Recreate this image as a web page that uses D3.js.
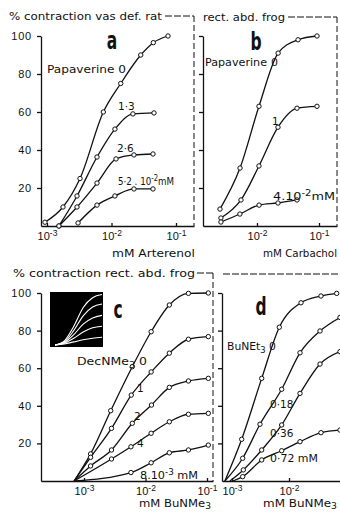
<!DOCTYPE html>
<html><head><meta charset="utf-8">
<script src="https://cdn.jsdelivr.net/npm/d3@7"></script>
<style>
html,body{margin:0;padding:0;background:#fff;}
svg{display:block;font-family:"DejaVu Sans",sans-serif;}
</style></head><body>
<svg id="fig" width="340" height="513"></svg>
<script>
// ---------------- data (concentration in mM, % contraction) ----------------
const yTicks = [20, 40, 60, 80, 100];
const ticksA = [1e-3, 1e-2, 1e-1];
const ticksB = [1e-2, 1e-1];
const ticksC = [1e-3, 1e-2, 1e-1];
const ticksD = [1e-3, 1e-2];

// panel a: Arterenol on rat vas deferens, papaverine 0 / 1.3 / 2.6 / 5.2 .10^-2 mM
const aPap0  = [[0.00093,2],[0.00177,10],[0.00325,25],[0.00747,60],[0.0139,75],[0.0284,90],[0.0445,96.5],[0.0752,100]];
const aPap13 = [[0.00153,0],[0.00292,15.8],[0.00596,36.3],[0.0113,51],[0.0215,59],[0.0456,59.5]];
const aPap26 = [[0.00153,0],[0.00292,10],[0.00596,22.6],[0.01175,35.3],[0.0223,37.4],[0.044,37.9]];
const aPap52 = [[0.00303,1.6],[0.00596,11],[0.0113,15.8],[0.0223,19.5],[0.044,19.5]];

// panel b: Carbachol on frog rectus abdominis, papaverine 0 / 1 / 4 .10^-2 mM
const bPap0 = [[0.00253,8.9],[0.00532,30.5],[0.01076,63],[0.0219,91],[0.0459,98],[0.0929,100]];
const bPap1 = [[0.00262,4.2],[0.00552,13.7],[0.01076,31.6],[0.0218,52],[0.0442,62],[0.0929,63]];
const bPap4 = [[0.00262,2.1],[0.0053,6.3],[0.0108,11],[0.0218,12.1],[0.0442,13.7]];

// panel c: BuNMe3 with DecNMe3 0 / 1 / 2 / 4 / 8 .10^-3 mM
const cStart = 0.00069;
const cDec0 = [[0.00128,14.4],[0.00272,37.4],[0.0061,60.8],[0.01235,79.4],[0.0244,93.6],[0.0499,99.8],[0.105,100]];
const cDec1 = [[0.00128,12.6],[0.0028,28],[0.00587,45.7],[0.01235,58],[0.0244,68],[0.0499,75.4],[0.105,76.8]];
const cDec2 = [[0.00128,8],[0.0028,16.5],[0.0061,30.7],[0.0125,40.4],[0.0244,49.8],[0.0499,53.2],[0.105,54.6]];
const cDec4 = [[0.0028,11.7],[0.0058,18.2],[0.01235,25.4],[0.0244,31.5],[0.0499,35.5],[0.105,36]];
const cDec8 = [[0.0058,4.5],[0.01235,9.7],[0.0244,15],[0.0499,16.5],[0.105,19.1]];

// panel d: BuNMe3 with BuNEt3 0 / 0.18 / 0.36 / 0.72 mM
const dStarts = [0.00075, 0.00075, 0.00092, 0.00104];
const dBu0   = [[0.00148,22.2],[0.00332,54.6],[0.00676,81.8],[0.01625,94.8],[0.0364,98.4],[0.0687,99.8]];
const dBu018 = [[0.00154,12.1],[0.0031,30.2],[0.00744,48.8],[0.0156,68.2],[0.035,79.8],[0.0785,87]];
const dBu036 = [[0.00158,5.9],[0.00332,16.5],[0.00744,29.8],[0.0156,46.6],[0.035,62.2],[0.0785,68.8]];
const dBu072 = [[0.00154,2.3],[0.00332,11.2],[0.00744,16.1],[0.0156,20.9],[0.0364,25.7],[0.0785,27.1]];

// inset (schematic family of curves, unit coordinates)
const inset0 = [[0,0],[0.2,0.08],[0.4,0.36],[0.6,0.72],[0.8,0.91],[1,0.97]];
const inset1 = [[0,0],[0.2,0.06],[0.4,0.28],[0.6,0.56],[0.8,0.73],[1,0.79]];
const inset2 = [[0,0],[0.2,0.05],[0.4,0.2],[0.6,0.4],[0.8,0.52],[1,0.57]];
const inset3 = [[0,0],[0.2,0.035],[0.4,0.13],[0.6,0.25],[0.8,0.33],[1,0.36]];
const inset4 = [[0,0],[0.2,0.02],[0.4,0.06],[0.6,0.1],[0.8,0.13],[1,0.15]];

// ---------------- drawing ----------------
const svg = d3.select("#fig");

function logScale(d0, d1, r0, r1, e0, e1) {
  const s = d3.scaleLog().domain([d0, d1]).range([r0, r1]);
  return s.copy().domain([s.invert(e0), s.invert(e1)]).range([e0, e1]);
}

function drawPanel(p) {
  const g = svg.append("g");
  const ya = d3.axisLeft(p.y).tickValues(yTicks).tickSize(4).tickSizeOuter(0).tickPadding(5)
    .tickFormat(p.yLabels ? d3.format("d") : "");
  const gy = g.append("g").attr("transform", `translate(${p.x.range()[0]},0)`).call(ya);
  gy.selectAll("text").attr("font-size", 11).attr("letter-spacing", 0.8).attr("fill", "#111");
  const xa = d3.axisBottom(p.x).tickValues(p.ticks).tickSize(-3).tickSizeOuter(0).tickPadding(6)
    .tickFormat(d => "10");
  const gx = g.append("g").attr("transform", `translate(0,${p.y.range()[0]})`).call(xa);
  gx.selectAll("text").attr("font-size", 11).attr("fill", "#111")
    .each(function(d) {
      d3.select(this).append("tspan").attr("dy", "-0.45em").attr("font-size", 8.5)
        .text("-" + String(-Math.round(Math.log10(d))));
    });
  g.selectAll(".domain, .tick line").attr("stroke", "#111").attr("stroke-width", 1.3);

  const line = d3.line().x(d => p.x(d[0])).y(d => p.y(d[1])).curve(d3.curveMonotoneX);
  p.series.forEach(s => {
    const pts = s.start != null ? [[s.start, 0]].concat(s.data) : s.data;
    g.append("path").attr("d", line(pts)).attr("fill", "none")
      .attr("stroke", "#111").attr("stroke-width", 1.3);
    g.selectAll(null).data(s.data).enter().append("circle")
      .attr("cx", d => p.x(d[0])).attr("cy", d => p.y(d[1])).attr("r", 2.2)
      .attr("fill", "#fff").attr("stroke", "#111").attr("stroke-width", 1);
  });
  return g;
}

function txt(x, y, s, size, opts) {
  opts = opts || {};
  const t = svg.append("text").attr("x", x).attr("y", y).attr("font-size", size)
    .attr("fill", "#111").text(s);
  if (opts.len) t.attr("textLength", opts.len).attr("lengthAdjust", "spacingAndGlyphs");
  if (opts.anchor) t.attr("text-anchor", opts.anchor);
  return t;
}
// parts: [text, kind] where kind = "" | "sub" | "sup" | "back" (return to baseline)
function rich(x, y, parts, size, len) {
  const t = svg.append("text").attr("x", x).attr("y", y).attr("font-size", size).attr("fill", "#111");
  parts.forEach(([s, kind, dy]) => {
    const ts = t.append("tspan").text(s);
    if (kind === "sub") ts.attr("font-size", size * 0.78).attr("dy", dy);
    if (kind === "sup") ts.attr("font-size", size * 0.78).attr("dy", dy);
    if (kind === "back") ts.attr("dy", dy);
  });
  if (len) t.attr("textLength", len).attr("lengthAdjust", "spacingAndGlyphs");
  return t;
}
function bigLetter(cx, y, s) {
  svg.append("text").attr("transform", `translate(${cx},${y}) scale(0.62,1)`)
    .attr("text-anchor", "middle").attr("font-size", 25).attr("font-weight", "bold")
    .attr("fill", "#111").text(s);
}
function dash(x1, y1, x2, y2, arr) {
  svg.append("line").attr("x1", x1).attr("y1", y1).attr("x2", x2).attr("y2", y2)
    .attr("stroke", "#111").attr("stroke-width", 1).attr("stroke-dasharray", arr || "7,2");
}

// scales
const yTop = d3.scaleLinear().domain([0, 100]).range([226, 36]);
const yBot = d3.scaleLinear().domain([0, 100]).range([481, 293]);
const xA = logScale(1e-3, 1e-1, 47, 176, 41, 194);
const xB = logScale(1e-2, 1e-1, 257, 319, 203, 337);
const xC = logScale(1e-3, 1e-1, 84, 207, 41, 213);
const xD = logScale(1e-3, 1e-2, 232, 289, 222, 340);

drawPanel({x: xA, y: yTop, ticks: ticksA, yLabels: true,
  series: [{data: aPap0}, {data: aPap13}, {data: aPap26}, {data: aPap52}]});
drawPanel({x: xB, y: yTop, ticks: ticksB, yLabels: false,
  series: [{data: bPap0}, {data: bPap1}, {data: bPap4}]});
drawPanel({x: xC, y: yBot, ticks: ticksC, yLabels: true,
  series: [{data: cDec0, start: cStart}, {data: cDec1, start: cStart}, {data: cDec2, start: cStart},
           {data: cDec4, start: cStart}, {data: cDec8, start: cStart}]});
drawPanel({x: xD, y: yBot, ticks: ticksD, yLabels: false,
  series: [{data: dBu0, start: dStarts[0]}, {data: dBu018, start: dStarts[1]},
           {data: dBu036, start: dStarts[2]}, {data: dBu072, start: dStarts[3]}]});

// frames / headers
txt(9, 20, "% contraction vas def. rat", 10.5, {len: 153});
dash(165, 16, 194, 16);
dash(194, 16, 194, 226, "6,3");
txt(203, 21, "rect. abd. frog", 10.5, {len: 82});
dash(288, 17, 337, 17);
dash(337, 17, 337, 226, "6,3");

txt(13, 277, "% contraction  rect. abd. frog", 10.5, {len: 182});
dash(197, 273, 213, 273);
dash(213, 273, 213, 481, "6,3");
dash(223, 274, 340, 274);

// panel letters
bigLetter(112, 49, "a");
bigLetter(256, 50, "b");
bigLetter(118, 318, "c");
bigLetter(261, 315, "d");

// curve labels a
txt(47, 73, "Papaverine 0", 10.5, {len: 79});
txt(118, 110, "1·3", 10.5);
txt(117, 152, "2·6", 10.5);
rich(118, 185, [["5·2 . 10", ""], ["-2", "sup", -4], ["mM", "back", 4]], 10.5, 56);
// curve labels b
txt(205, 66, "Papaverine", 10.5, {len: 62});
txt(271, 66, "0", 11);
txt(272, 125, "1", 10.5);
rich(273, 200, [["4.10", ""], ["-2", "sup", -4], ["mM", "back", 4]], 10.5, 62);
// curve labels c
rich(77, 365, [["DecNMe", ""], ["3", "sub", 3], [" 0", "back", -3]], 10.5, 70);
txt(137, 392, "1", 10.5);
txt(134, 420, "2", 10.5);
txt(137, 447, "4", 10.5);
rich(140, 479, [["8.10", ""], ["-3", "sup", -4], [" mM", "back", 4]], 10.5, 58);
// curve labels d
rich(227, 350, [["BuNEt", ""], ["3", "sub", 3], [" 0", "back", -3]], 10.5, 49);
txt(270, 408, "0·18", 10.5);
txt(270, 437, "0·36", 10.5);
txt(270, 462, "0·72 mM", 10.5, {len: 48});

// axis titles
txt(112, 257, "mM Arterenol", 10.5, {len: 83});
txt(263, 257, "mM Carbachol", 10.5, {len: 74});
rich(139, 507, [["mM BuNMe", ""], ["3", "sub", 2]], 10.5, 72);
rich(263, 507, [["mM BuNMe", ""], ["3", "sub", 2]], 10.5, 74);

// inset in panel c
const ix = d3.scaleLinear().domain([0, 1]).range([55, 102]);
const iy = d3.scaleLinear().domain([0, 1]).range([345, 293]);
svg.append("rect").attr("x", ix.range()[0] - 5).attr("y", iy.range()[1] - 1)
  .attr("width", ix.range()[1] - ix.range()[0] + 6).attr("height", iy.range()[0] - iy.range()[1] + 3)
  .attr("fill", "#000");
const iline = d3.line().x(d => ix(d[0])).y(d => iy(d[1])).curve(d3.curveMonotoneX);
[inset0, inset1, inset2, inset3, inset4].forEach(c => {
  svg.append("path").attr("d", iline(c)).attr("fill", "none").attr("stroke", "#fff").attr("stroke-width", 1.1);
});
</script>
</body></html>
